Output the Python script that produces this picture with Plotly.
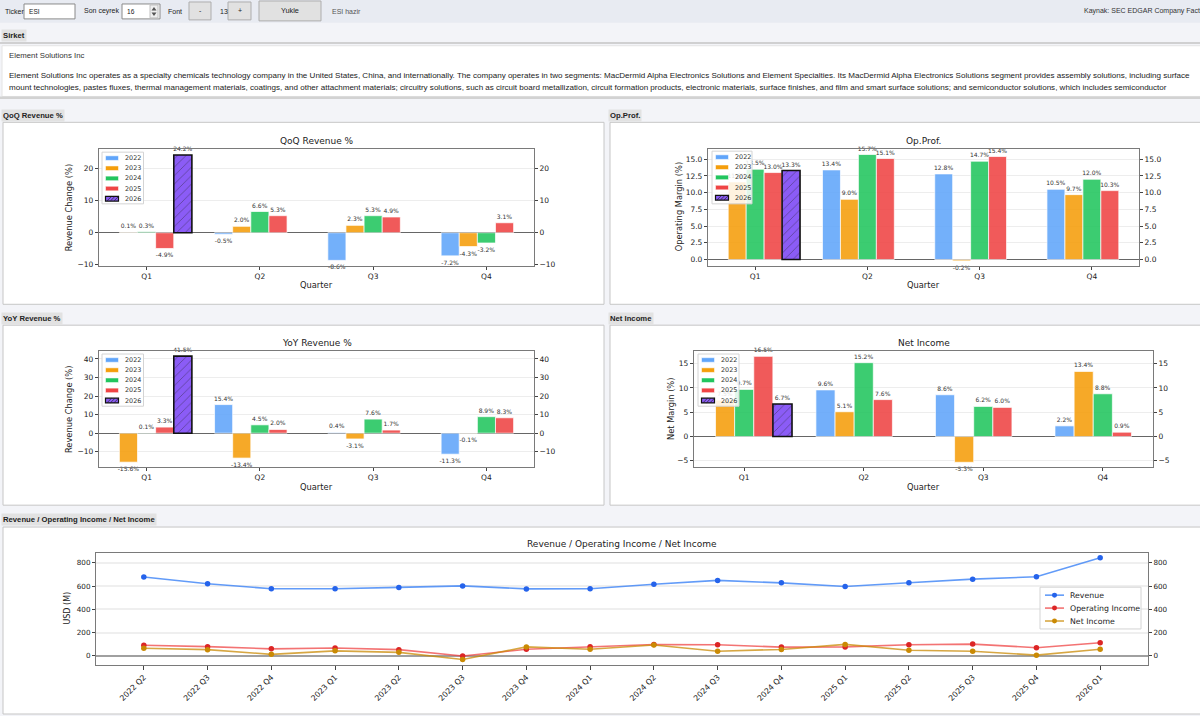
import plotly.graph_objects as go

W, H = 1200, 716


def X(px):
    return px / W


def Y(py):
    return 1 - py / H


# ------------------------------------------------------------------ data
quarters = ["Q1", "Q2", "Q3", "Q4"]
years = ["2022", "2023", "2024", "2025", "2026"]
year_colors = ["#60a5fa", "#f59e0b", "#22c55e", "#ef4444", "#8b5cf6"]

qoq_2022 = [None, -0.5, -8.6, -7.2]
qoq_2023 = [0.1, 2.0, 2.3, -4.3]
qoq_2024 = [0.3, 6.6, 5.3, -3.2]
qoq_2025 = [-4.9, 5.3, 4.9, 3.1]
qoq_2026 = [24.2, None, None, None]

op_2022 = [None, 13.4, 12.8, 10.5]
op_2023 = [11.6, 9.0, -0.2, 9.7]
op_2024 = [13.5, 15.7, 14.7, 12.0]
op_2025 = [13.0, 15.1, 15.4, 10.3]
op_2026 = [13.3, None, None, None]

yoy_2022 = [None, 15.4, 0.4, -11.3]
yoy_2023 = [-15.6, -13.4, -3.1, -0.1]
yoy_2024 = [0.1, 4.5, 7.6, 8.9]
yoy_2025 = [3.3, 2.0, 1.7, 8.3]
yoy_2026 = [41.5, None, None, None]

net_2022 = [None, 9.6, 8.6, 2.2]
net_2023 = [7.5, 5.1, -5.3, 13.4]
net_2024 = [9.7, 15.2, 6.2, 8.8]
net_2025 = [16.5, 7.6, 6.0, 0.9]
net_2026 = [6.7, None, None, None]

periods = ["2022 Q2", "2022 Q3", "2022 Q4", "2023 Q1", "2023 Q2", "2023 Q3",
           "2023 Q4", "2024 Q1", "2024 Q2", "2024 Q3", "2024 Q4", "2025 Q1",
           "2025 Q2", "2025 Q3", "2025 Q4", "2026 Q1"]
revenue = [678, 620, 576, 576, 588, 601, 575, 577, 615, 648, 627, 596, 628, 659, 679, 843]
op_income = [91, 79, 60, 67, 53, -1, 56, 78, 97, 95, 75, 77, 95, 101, 70, 112]
net_income = [65, 53, 13, 43, 30, -32, 77, 56, 93, 40, 55, 98, 48, 40, 6, 56]

line_names = ["Revenue", "Operating Income", "Net Income"]
line_colors = ["rgba(59,130,246,0.8)", "rgba(239,68,68,0.75)", "rgba(202,138,4,0.75)"]
marker_colors = ["#2563eb", "#dc2626", "#ca8a04"]

company = "Element Solutions Inc"
desc1 = ("Element Solutions Inc operates as a specialty chemicals technology company in the United States, "
         "China, and internationally. The company operates in two segments: MacDermid Alpha Electronics "
         "Solutions and Element Specialties. Its MacDermid Alpha Electronics Solutions segment provides "
         "assembly solutions, including surface")
desc2 = ("mount technologies, pastes fluxes, thermal management materials, coatings, and other attachment "
         "materials; circuitry solutions, such as circuit board metallization, circuit formation products, "
         "electronic materials, surface finishes, and film and smart surface solutions; and semiconductor "
         "solutions, which includes semiconductor")

UI = "Liberation Sans"
MPL = "DejaVu Sans"
FRAME = "#7a7a7a"

annotations = []
shapes = []


def txt(px, py, s, size=7.0, color="#222", family=UI, xanchor="left", yanchor="middle",
        angle=0, bgcolor=None):
    a = dict(x=X(px), y=Y(py), xref="paper", yref="paper", text=s, showarrow=False,
             xanchor=xanchor, yanchor=yanchor, textangle=angle,
             font=dict(size=size, color=color, family=family))
    if bgcolor:
        a["bgcolor"] = bgcolor
        a["borderpad"] = 1
    annotations.append(a)


def rect(x0, y0, x1, y1, fill, line=None, lw=1, layer="below"):
    shapes.append(dict(type="rect", xref="paper", yref="paper",
                       x0=X(x0), x1=X(x1), y0=Y(y1), y1=Y(y0),
                       fillcolor=fill,
                       line=dict(color=line if line else "rgba(0,0,0,0)", width=lw if line else 0),
                       layer=layer))


def seg(x0, y0, x1, y1, color, width=1, layer="above"):
    shapes.append(dict(type="line", xref="paper", yref="paper",
                       x0=X(x0), x1=X(x1), y0=Y(y0), y1=Y(y1),
                       line=dict(color=color, width=width), layer=layer))


def path(points, fill, layer="below"):
    d = "M " + " L ".join(f"{X(a):.5f},{Y(b):.5f}" for a, b in points) + " Z"
    shapes.append(dict(type="path", xref="paper", yref="paper", path=d, fillcolor=fill,
                       line=dict(width=0), layer=layer))


# ------------------------------------------------------------------ page chrome
rect(0, 0, 1200, 23, "#e8ebf2")
txt(3, 11.5, "Ticker")
rect(24, 4, 75, 19, "white", "#8a8a8a")
txt(27, 11.5, "ESI", size=6.6)
txt(82, 11.5, "Son ceyrek")
rect(122, 4, 160, 19, "white", "#8a8a8a")
txt(125, 11.5, "16", size=6.6)
rect(150, 5, 158, 18, "#efefef", "#c0c0c0")
path([(151.5, 10.5), (156.5, 10.5), (154, 7)], "#555")
path([(151.5, 12.5), (156.5, 12.5), (154, 16)], "#555")
txt(166, 11.5, "Font")
rect(189, 2, 211, 20, "#e1e1e1", "#adadad")
txt(200, 11, "-", xanchor="center")
txt(218, 11.5, "13")
rect(228, 2, 251, 20, "#e1e1e1", "#adadad")
txt(239.5, 11, "+", xanchor="center")
rect(259, 1, 321, 21, "#e1e1e1", "#adadad")
txt(290, 11, "Yukle", xanchor="center", size=7.3)
txt(330, 11.5, "ESI hazir", color="#555")
txt(1082, 11.5, "Kaynak: SEC EDGAR Company Facts", color="#333")

txt(1, 36, "<b>Sirket</b>", size=7.7, bgcolor="#e2e2e2")
rect(0, 42.5, 1200, 44, "#c4c4c4")
rect(2, 46, 1201, 97, "white", "#e4e4e4")
rect(0, 97, 1200, 99.5, "#d2d2d2")
txt(7, 56, company, size=7.8, color="#333")
txt(7, 76, desc1, size=8.05, color="#222")
txt(7, 88, desc2, size=8.05, color="#222")

# section labels
txt(1, 116.5, "<b>QoQ Revenue %</b>", size=7.7, bgcolor="#e2e2e2")
txt(608, 116.5, "<b>Op.Prof.</b>", size=7.7, bgcolor="#e2e2e2")
txt(1, 320, "<b>YoY Revenue %</b>", size=7.7, bgcolor="#e2e2e2")
txt(608, 320, "<b>Net Income</b>", size=7.7, bgcolor="#e2e2e2")
txt(1, 522, "<b>Revenue / Operating Income / Net Income</b>", size=7.7, bgcolor="#e2e2e2")

# panels
rect(3, 123, 604, 306, "white", "#c6c6c6")
rect(610, 123, 1202, 306, "white", "#c6c6c6")
rect(3, 327, 604, 508, "white", "#c6c6c6")
rect(610, 327, 1202, 508, "white", "#c6c6c6")
rect(3, 530, 1202, 718, "white", "#c6c6c6")

fig = go.Figure()
layout = {}


def ax_name(p, n):
    return f"{p}axis" if n == 1 else f"{p}axis{n}"


def ax_ref(p, n):
    return p if n == 1 else f"{p}{n}"


def bar_legend(bx0, by0, bx1, by1):
    rect(bx0, by0, bx1, by1, "rgba(255,255,255,0.85)", "#d4d4d4", 1, layer="above")
    for i, yr in enumerate(years):
        cy = by0 + 6 + 10.2 * i
        sx0, sx1 = bx0 + 3.5, bx0 + 16.5
        if i == 4:
            rect(sx0, cy - 2.4, sx1, cy + 2.4, year_colors[i], "#111", 1.2, layer="above")
            for k in (1.5, 5.0, 8.5):
                seg(sx0 + k, cy + 2.2, sx0 + k + 4.4, cy - 2.2, "#222", 0.7)
        else:
            rect(sx0, cy - 2.3, sx1, cy + 2.3, year_colors[i], "rgba(255,255,255,0.9)", 0.6, layer="above")
        txt(bx0 + 21, cy, yr, size=6.4, color="#333", family=MPL)


def bar_chart(k, series, px0, px1, py0, py1, yrange, tickvals, tickfmt, title, ytitle,
              ytitle_x, leg):
    xr = ax_ref("x", k)
    yl = ax_ref("y", 2 * k - 1)
    yr_ = ax_ref("y", 2 * k)
    for i, vals in enumerate(series):
        last = i == 4
        marker = dict(color=year_colors[i], opacity=1.0 if last else 0.88,
                      line=dict(color="#111111" if last else "rgba(255,255,255,0.9)",
                                width=1.6 if last else 0.8))
        if last:
            marker["pattern"] = dict(shape="/", fgcolor="#222222", bgcolor=year_colors[i],
                                     size=6, solidity=0.12)
        fig.add_trace(go.Bar(
            x=quarters, y=vals, xaxis=xr, yaxis=yl, name=years[i],
            width=0.16, offset=-0.40 + 0.16 * i, marker=marker,
            text=["" if v is None else f"{v:.1f}%" for v in vals],
            textposition="outside", cliponaxis=False, constraintext="none",
            textfont=dict(family=MPL, size=6, color="#333333"),
            showlegend=False, hoverinfo="skip"))
    fig.add_trace(go.Scatter(x=[quarters[0]], y=[None], xaxis=xr, yaxis=yr_, mode="markers",
                             showlegend=False, hoverinfo="skip"))
    tf = dict(family=MPL, size=7.5, color="#222")
    layout[ax_name("x", k)] = dict(
        domain=[X(px0), X(px1)], anchor=yl, type="category", categoryorder="array",
        categoryarray=quarters, range=[-0.42, 3.42], showline=True, mirror=True,
        linecolor=FRAME, linewidth=1.2, ticks="outside", ticklen=3, tickcolor="#444",
        tickfont=tf, showgrid=False, zeroline=False, fixedrange=True)
    layout[ax_name("y", 2 * k - 1)] = dict(
        domain=[Y(py1), Y(py0)], anchor=xr, range=yrange, tickmode="array", tickvals=tickvals,
        tickformat=tickfmt, showline=True, mirror=True, linecolor=FRAME, linewidth=1.2,
        ticks="outside", ticklen=3, tickcolor="#444", tickfont=tf, showgrid=True,
        gridcolor="#ededed", zeroline=True, zerolinecolor="#666", zerolinewidth=1, fixedrange=True)
    layout[ax_name("y", 2 * k)] = dict(
        overlaying=yl, side="right", anchor=xr, range=yrange, tickmode="array", tickvals=tickvals,
        tickformat=tickfmt, showline=False, ticks="outside", ticklen=3, tickcolor="#444",
        tickfont=tf, showgrid=False, zeroline=False, fixedrange=True)
    cx = (px0 + px1) / 2
    txt(cx, py0 - 8, title, size=9, color="#222", family=MPL, xanchor="center")
    txt(cx, py1 + 20, "Quarter", size=8.3, color="#222", family=MPL, xanchor="center")
    txt(ytitle_x, (py0 + py1) / 2, ytitle, size=8.3, color="#222", family=MPL,
        xanchor="center", angle=-90)
    bar_legend(*leg)


bar_chart(1, [qoq_2022, qoq_2023, qoq_2024, qoq_2025, qoq_2026], 99, 534, 150, 267,
          [-10.2, 26.0], [-10, 0, 10, 20], "d", "QoQ Revenue %", "Revenue Change (%)", 69,
          (102, 153, 143.5, 205))
bar_chart(2, [op_2022, op_2023, op_2024, op_2025, op_2026], 708, 1139, 150, 267,
          [-0.9, 16.5], [0, 2.5, 5, 7.5, 10, 12.5, 15], ".1f", "Op.Prof.",
          "Operating Margin (%)", 679, (712, 152, 752, 205))
bar_chart(3, [yoy_2022, yoy_2023, yoy_2024, yoy_2025, yoy_2026], 99, 534, 352.7, 470,
          [-18.4, 44.4], [-10, 0, 10, 20, 30, 40], "d", "YoY Revenue %", "Revenue Change (%)", 69,
          (102, 356, 143.5, 408.5))
bar_chart(4, [net_2022, net_2023, net_2024, net_2025, net_2026], 694, 1153, 352.7, 470,
          [-6.34, 17.66], [-5, 0, 5, 10, 15], "d", "Net Income", "Net Margin (%)", 671,
          (698, 356, 739, 408.5))

# ------------------------------------------------------------------ bottom line chart
bx0, bx1, by0, by1 = 96, 1148, 555.7, 668.3
for name, vals, lc, mc in zip(line_names, [revenue, op_income, net_income], line_colors, marker_colors):
    fig.add_trace(go.Scatter(x=periods, y=vals, xaxis="x5", yaxis="y9", mode="lines+markers",
                             name=name, line=dict(color=lc, width=1.6),
                             marker=dict(color=mc, size=5.5), showlegend=False, hoverinfo="skip"))
fig.add_trace(go.Scatter(x=[periods[0]], y=[None], xaxis="x5", yaxis="y10", mode="markers",
                         showlegend=False, hoverinfo="skip"))
tfb = dict(family=MPL, size=7.2, color="#222")
yr_b = [-75, 887]
yt_b = [0, 200, 400, 600, 800]
layout["xaxis5"] = dict(domain=[X(bx0), X(bx1)], anchor="y9", type="category",
                        categoryorder="array", categoryarray=periods, range=[-0.75, 15.75],
                        showline=True, mirror=True, linecolor=FRAME, linewidth=1.2,
                        ticks="outside", ticklen=4, tickcolor="#444",
                        tickfont=dict(family=MPL, size=7.8, color="#222"),
                        tickangle=-45, showgrid=False, zeroline=False, fixedrange=True)
layout["yaxis9"] = dict(domain=[Y(by1), Y(by0)], anchor="x5", range=yr_b, tickmode="array",
                        tickvals=yt_b, showline=True, mirror=True, linecolor=FRAME, linewidth=1.2,
                        ticks="outside", ticklen=3, tickcolor="#444", tickfont=tfb, showgrid=True,
                        gridcolor="#efefef", gridwidth=1.5, zeroline=True, zerolinecolor="#a0a0a0",
                        zerolinewidth=2, fixedrange=True)
layout["yaxis10"] = dict(overlaying="y9", side="right", anchor="x5", range=yr_b, tickmode="array",
                         tickvals=yt_b, showline=False, ticks="outside", ticklen=3, tickcolor="#444",
                         tickfont=tfb, showgrid=False, zeroline=False, fixedrange=True)
txt((bx0 + bx1) / 2, 547, "Revenue / Operating Income / Net Income", size=9, color="#222",
    family=MPL, xanchor="center")
txt(68, 612, "USD (M)", size=8, color="#222", family=MPL, xanchor="center", angle=-90)

# bottom legend
rect(1040, 590.5, 1141, 632.5, "rgba(255,255,255,0.85)", "#d4d4d4", 1, layer="above")
for i, name in enumerate(line_names):
    cy = 598.5 + 13 * i
    seg(1045, cy, 1064, cy, line_colors[i], 1.6)
    shapes.append(dict(type="circle", xref="paper", yref="paper",
                       x0=X(1052), x1=X(1057), y0=Y(cy + 2.5), y1=Y(cy - 2.5),
                       fillcolor=marker_colors[i], line=dict(width=0), layer="above"))
    txt(1068, cy, name, size=7.8, color="#222", family=MPL)

layout.update(dict(
    width=W, height=H, autosize=False,
    margin=dict(l=0, r=0, t=0, b=0, pad=0),
    paper_bgcolor="#f3f4f8", plot_bgcolor="white",
    barmode="overlay", showlegend=False,
    shapes=shapes, annotations=annotations,
    font=dict(family=MPL, size=8, color="#222"),
))
fig.update_layout(**layout)
fig.write_html("out.html", config={"displayModeBar": False})
